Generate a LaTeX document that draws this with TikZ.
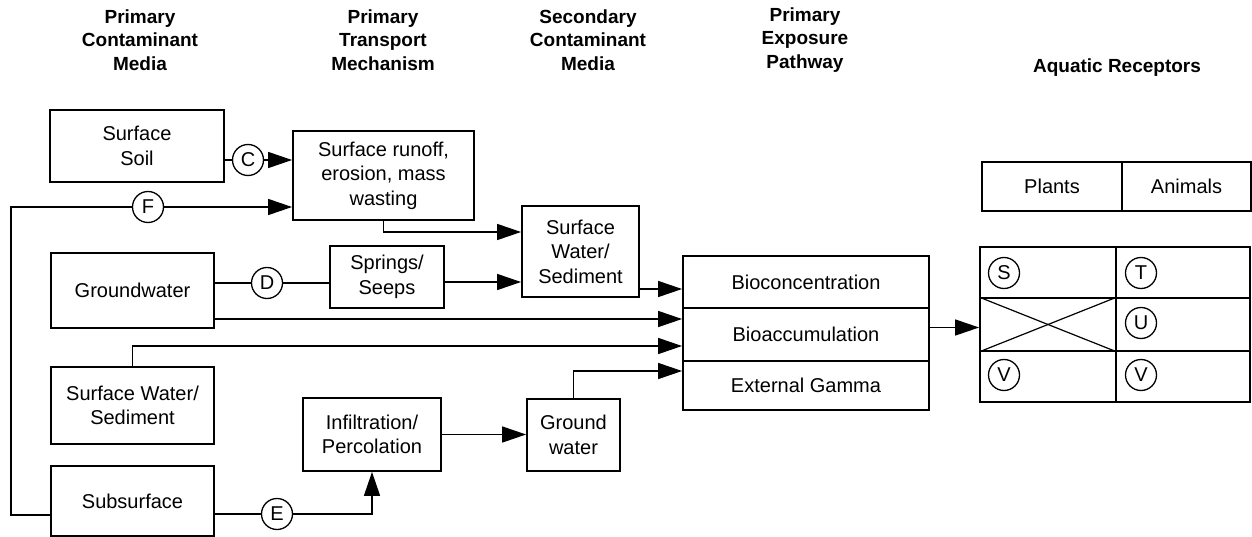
\documentclass[tikz,border=0pt]{standalone}
\usepackage{fontspec}
\setmainfont{Liberation Sans}
\usetikzlibrary{arrows.meta}
\begin{document}
\begin{tikzpicture}[x=1pt,y=-1pt,
  box/.style={draw,line width=1.8pt,align=center,inner sep=0pt,font=\fontsize{20}{24.5}\selectfont},
  cell/.style={draw,line width=1.8pt,inner sep=0pt,font=\fontsize{20}{24.5}\selectfont},
  lbl/.style={circle,draw,line width=1.3pt,minimum size=31pt,inner sep=0pt,font=\fontsize{20}{24}\selectfont},
  hdr/.style={align=center,font=\fontsize{19}{23.5}\selectfont\bfseries},
  conn/.style={line width=1.4pt},
  arr/.style={line width=1.4pt,-{Triangle[length=24pt,width=16pt]}}]
\useasboundingbox (0,0) rectangle (1252,537);
% headers
\node[hdr] (h1) at (140,40) {Primary\\Contaminant\\Media};
\node[hdr] (h2) at (383,40) {Primary\\Transport\\Mechanism};
\node[hdr] (h3) at (588,40) {Secondary\\Contaminant\\Media};
\node[hdr] (h4) at (805,40) {Primary\\Exposure\\Pathway};
\node[hdr] (h5) at (1117,68) {Aquatic Receptors};
% boxes
\node[box,minimum width=174pt,minimum height=72pt] (soil) at (137,146) {Surface\\Soil};
\node[box,minimum width=181pt,minimum height=89pt] (runoff) at (383.5,175.5) {Surface runoff,\\erosion, mass\\wasting};
\node[box,minimum width=117pt,minimum height=91pt] (swsec) at (580.5,251.5) {Surface\\Water/\\Sediment};
\node[box,minimum width=163pt,minimum height=75pt] (gw) at (132.5,290.5) {Groundwater};
\node[box,minimum width=114pt,minimum height=62pt] (springs) at (387,277) {Springs/\\Seeps};
\node[box,minimum width=163pt,minimum height=77pt] (swpri) at (132.5,405.5) {Surface Water/\\Sediment};
\node[box,minimum width=163pt,minimum height=70pt] (sub) at (132.5,501) {Subsurface};
\node[box,minimum width=138pt,minimum height=73pt] (infil) at (372,434.5) {Infiltration/\\Percolation};
\node[box,minimum width=93pt,minimum height=72pt] (gwsec) at (573.5,435) {Ground\\water};
\node[box,minimum width=246pt,minimum height=52pt] (bc) at (806,282) {Bioconcentration};
\node[box,minimum width=246pt,minimum height=53pt] (ba) at (806,334.5) {Bioaccumulation};
\node[box,minimum width=246pt,minimum height=49pt] (eg) at (806,385.5) {External Gamma};
% receptor table
\node[cell,minimum width=140pt,minimum height=49pt] (plants) at (1052,186.5) {Plants};
\node[cell,minimum width=129pt,minimum height=49pt] (animals) at (1186.5,186.5) {Animals};
\node[cell,minimum width=136pt,minimum height=51pt] (c11) at (1048,272.5) {};
\node[cell,minimum width=134pt,minimum height=51pt] (c12) at (1183,272.5) {};
\node[cell,minimum width=136pt,minimum height=53pt] (c21) at (1048,324.5) {};
\node[cell,minimum width=134pt,minimum height=53pt] (c22) at (1183,324.5) {};
\node[cell,minimum width=136pt,minimum height=51pt] (c31) at (1048,376.5) {};
\node[cell,minimum width=134pt,minimum height=51pt] (c32) at (1183,376.5) {};
\draw[line width=1.2pt] (c21.north west) -- (c21.south east);
\draw[line width=1.2pt] (c21.south west) -- (c21.north east);
\node[lbl] (S) at (1004,273) {S};
\node[lbl] (T) at (1141,273) {T};
\node[lbl] (U) at (1141,323) {U};
\node[lbl] (V1) at (1004,375) {V};
\node[lbl] (V2) at (1141,375) {V};
% letter circles
\node[lbl] (C) at (248,160) {C};
\node[lbl] (F) at (148,207) {F};
\node[lbl] (D) at (267,283) {D};
\node[lbl] (E) at (277,514) {E};
\coordinate (fcorner) at (11,515);
% connectors
\draw[conn] (C) -- (C -| soil.east);
\draw[arr] (C) -- (C -| runoff.west);
\draw[conn] (sub.west |- fcorner) -- (fcorner) |- (F);
\draw[arr] (F) -- (F -| runoff.west);
\draw[arr] (runoff.south) |- ([yshift=19.5pt]swsec.west);
\draw[conn] (D) -- (D -| gw.east);
\draw[conn] (D) -- (D -| springs.west);
\draw[arr] ([yshift=-5pt]springs.east) -- ([yshift=-5pt]springs.east -| swsec.west);
\draw[arr] ([yshift=-37.5pt]swsec.east) -- ([yshift=-37.5pt]swsec.east -| bc.west);
\draw[arr] ([yshift=-28.5pt]gw.east) -- ([yshift=-28.5pt]gw.east -| ba.west);
\draw[arr] (swpri.north) |- ([yshift=-11.5pt]ba.west);
\draw[arr] (gwsec.north) |- ([yshift=14.5pt]eg.west);
\draw[arr] (infil.east) -- (infil.east -| gwsec.west);
\draw[conn] (E) -- (E -| sub.east);
\draw[arr] (E) -| (infil.south);
\draw[arr] ([yshift=7pt]ba.east) -- ([yshift=7pt]ba.east -| c21.west);
\end{tikzpicture}
\end{document}
